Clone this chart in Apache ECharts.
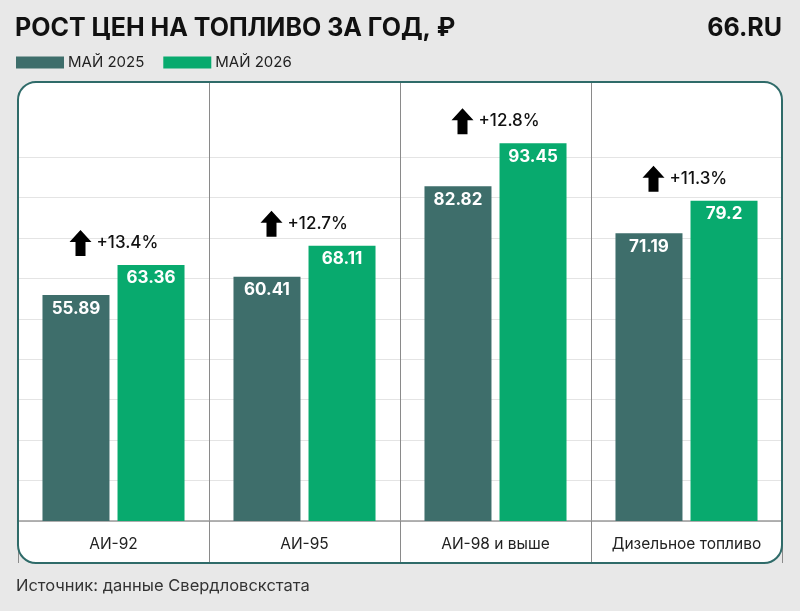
<!DOCTYPE html>
<html><head><meta charset="utf-8">
<script src="https://cdn.jsdelivr.net/npm/echarts@6/dist/echarts.min.js"></script>
<style>html,body{margin:0;padding:0;background:#e8e8e8}#c{width:800px;height:611px}</style>
</head><body><div id="c"></div>
<script>
const categories = ['АИ-92', 'АИ-95', 'АИ-98 и выше', 'Дизельное топливо'];
const seriesNames = ['МАЙ 2025', 'МАЙ 2026'];
const may2025 = [55.89, 60.41, 82.82, 71.19];
const may2026 = [63.36, 68.11, 93.45, 79.2];
const growth = ['+13.4%', '+12.7%', '+12.8%', '+11.3%'];
const yMax = 108.6;
const yStep = 10;

const FONT = 'Inter, Roboto, sans-serif';
const colDark = '#3e6e6b';
const colGreen = '#08aa6e';
const gridCol = '#e4e4e4';
const lineColors = [];
for (let v = 0; v <= yMax; v += yStep) lineColors.push(v >= 100 ? 'rgba(0,0,0,0)' : gridCol);
lineColors.push('rgba(0,0,0,0)');

const arrowPath = 'path://M11,0 L22,12 L16,12 L16,26 L6,26 L6,12 L0,12 Z';

const chart = echarts.init(document.getElementById('c'), null, {renderer: 'canvas'});
chart.setOption({
  backgroundColor: '#e8e8e8',
  animation: false,
  textStyle: {fontFamily: FONT},
  graphic: [
    {type: 'rect', z: -10, shape: {x: 18, y: 82, width: 764, height: 481, r: 18}, style: {fill: '#ffffff'}},
    {type: 'rect', z: 100, shape: {x: 18, y: 82, width: 764, height: 481, r: 18}, style: {fill: null, stroke: '#2f6b69', lineWidth: 2}},
    {type: 'text', left: 15, top: 16, style: {text: 'РОСТ ЦЕН НА ТОПЛИВО ЗА ГОД, ₽', font: 'bold 25px ' + FONT, fill: '#111'}},
    {type: 'text', right: 18, top: 16, style: {text: '66.RU', font: 'bold 25px ' + FONT, fill: '#111'}},
    {type: 'text', left: 16, top: 578, style: {text: 'Источник: данные Свердловскстата', font: '16.5px ' + FONT, fill: '#333'}}
  ],
  legend: {
    left: 16, top: 55, padding: 0, itemGap: 19, itemWidth: 48, itemHeight: 12,
    icon: 'rect', data: seriesNames,
    textStyle: {fontFamily: FONT, fontSize: 15, color: '#222', padding: [0, 0, 0, -1]}
  },
  grid: {left: 18, right: 18, top: 82, bottom: 90},
  xAxis: {
    type: 'category', data: categories, boundaryGap: true,
    axisLine: {show: true, lineStyle: {color: '#9a9a9a', width: 1.5}},
    axisTick: {show: true, interval: 0, inside: false, length: 42, lineStyle: {color: '#8a8a8a', width: 1}},
    splitLine: {show: true, interval: 0, showMinLine: false, showMaxLine: false, lineStyle: {color: '#8a8a8a', width: 1}},
    axisLabel: {interval: 0, hideOverlap: false, margin: 15, fontSize: 15.5, color: '#222', fontFamily: FONT}
  },
  yAxis: {
    type: 'value', min: 0, max: yMax, interval: yStep,
    axisLabel: {show: false}, axisLine: {show: false}, axisTick: {show: false},
    splitLine: {show: true, lineStyle: {color: lineColors, width: 1}}
  },
  series: [
    {
      name: seriesNames[0], type: 'bar', data: may2025, barWidth: 67, barGap: '12%',
      itemStyle: {color: colDark},
      label: {show: true, position: 'insideTop', distance: 5, color: '#fff', fontSize: 17, fontWeight: 'bold', fontFamily: FONT}
    },
    {
      name: seriesNames[1], type: 'bar', data: may2026, barWidth: 67,
      itemStyle: {color: colGreen},
      label: {show: true, position: 'insideTop', distance: 5, color: '#fff', fontSize: 17, fontWeight: 'bold', fontFamily: FONT}
    },
    {
      type: 'scatter', data: may2026, symbol: arrowPath, symbolSize: [22, 26], symbolOffset: [-33, -22],
      itemStyle: {color: '#000', opacity: 1}, silent: true, z: 5,
      label: {show: true, position: 'right', distance: 5, color: '#111', fontSize: 17, fontWeight: 500, fontFamily: FONT,
        formatter: p => growth[p.dataIndex]}
    }
  ]
});
</script></body></html>
